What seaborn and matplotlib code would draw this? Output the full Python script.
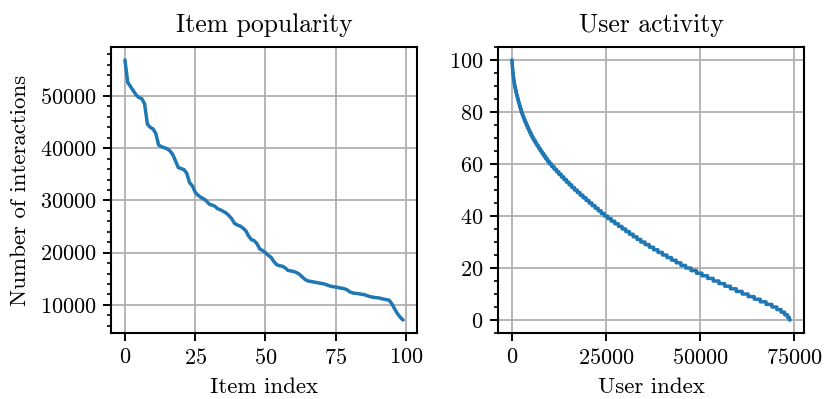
import numpy as np
import pandas as pd
import matplotlib
matplotlib.use("Agg")
import matplotlib.pyplot as plt
from matplotlib.ticker import MultipleLocator
import seaborn as sns

# Interactions per item, items sorted by popularity (top 100 items)
item_interactions = [
    56900, 52600, 51800, 51000, 50200, 49700, 49500, 48500, 44600, 44000,
    43700, 42800, 40600, 40300, 40100, 39900, 39500, 38800, 37600, 36300,
    36100, 35900, 35200, 33400, 32800, 31600, 31000, 30600, 30300, 29900,
    29300, 29100, 28900, 28400, 28200, 27900, 27600, 27100, 26500, 25600,
    25300, 25100, 24700, 24200, 23200, 22500, 22300, 21700, 20700, 20400,
    20000, 19500, 19100, 18300, 17700, 17500, 17400, 17100, 16600, 16500,
    16400, 16200, 15900, 15400, 14900, 14600, 14500, 14400, 14300, 14200,
    14100, 14000, 13800, 13600, 13500, 13400, 13300, 13200, 13100, 12900,
    12500, 12300, 12200, 12150, 12050, 12000, 11800, 11600, 11500, 11400,
    11350, 11250, 11100, 11000, 10900, 10200, 9200, 8300, 7600, 7100,
]

# Activity levels (interactions per user) and number of users at each level
activity_levels = list(range(100, -1, -1))
users_per_level = [
    30, 40, 45, 55, 60, 70, 80, 90, 105, 125,              # 100..91
    140, 150, 160, 165, 175, 180, 190, 195, 205, 210,      # 90..81
    235, 250, 265, 280, 290, 300, 310, 320, 330, 350,      # 80..71
    395, 410, 425, 440, 450, 460, 470, 485, 505, 520,      # 70..61
    600, 620, 635, 650, 660, 665, 675, 690, 700, 715,      # 60..51
    760, 770, 780, 790, 795, 800, 805, 805, 810, 815,      # 50..41
    920, 935, 950, 960, 970, 975, 985, 990, 1000, 1015,    # 40..31
    1110, 1130, 1150, 1170, 1185, 1200, 1215, 1230, 1245, 1265,  # 30..21
    1420, 1450, 1470, 1490, 1500, 1510, 1520, 1530, 1545, 1565,  # 20..11
    1600, 1620, 1580, 1560, 1540,                          # 10..6
    1300, 1150, 950, 750, 500, 200,                        # 5..0
]

item_df = pd.DataFrame({"Item index": np.arange(len(item_interactions)),
                        "Number of interactions": item_interactions})
user_activity = np.repeat(activity_levels, users_per_level)
user_df = pd.DataFrame({"User index": np.arange(len(user_activity)),
                        "Activity": user_activity})

sns.set_style("ticks")
plt.rcParams.update({
    "font.family": "serif",
    "font.serif": ["cmr10", "DejaVu Serif"],
    "mathtext.fontset": "cm",
    "axes.formatter.use_mathtext": True,
    "axes.unicode_minus": False,
    "font.size": 16,
    "text.color": "black",
    "axes.labelcolor": "black",
    "axes.edgecolor": "black",
    "axes.linewidth": 1.5,
    "xtick.color": "black",
    "ytick.color": "black",
    "xtick.direction": "out",
    "ytick.direction": "out",
    "xtick.major.size": 5.5,
    "ytick.major.size": 5.5,
    "ytick.minor.size": 3.2,
    "xtick.major.width": 1.4,
    "ytick.major.width": 1.4,
    "ytick.minor.width": 1.2,
})

fig = plt.figure(figsize=(8.26, 3.99), dpi=100)
ax1 = fig.add_axes([0.1344, 0.1654, 0.3705, 0.7168])
ax2 = fig.add_axes([0.6029, 0.1654, 0.3705, 0.7168])

blue = "#1f77b4"
sns.lineplot(data=item_df, x="Item index", y="Number of interactions",
             ax=ax1, color=blue, linewidth=2.5, estimator=None)
sns.lineplot(data=user_df, x="User index", y="Activity",
             ax=ax2, color=blue, linewidth=2.5, estimator=None)

ax1.set_title("Item popularity", fontsize=18.5, pad=11)
ax2.set_title("User activity", fontsize=18.5, pad=11)
ax1.set_xlabel("Item index", fontsize=16.5, labelpad=7)
ax1.set_ylabel("Number of interactions", fontsize=16.5, labelpad=7)
ax2.set_xlabel("User index", fontsize=16.5, labelpad=7)
ax2.set_ylabel("")

ax1.xaxis.set_major_locator(MultipleLocator(25))
ax1.yaxis.set_major_locator(MultipleLocator(10000))
ax1.yaxis.set_minor_locator(MultipleLocator(2000))
ax2.xaxis.set_major_locator(MultipleLocator(25000))
ax2.yaxis.set_major_locator(MultipleLocator(20))
ax2.yaxis.set_minor_locator(MultipleLocator(5))

for ax in (ax1, ax2):
    ax.grid(True, which="major", color="#b0b0b0", linewidth=1.3)
    ax.set_axisbelow(True)
    for s in ax.spines.values():
        s.set_visible(True)
    ax.tick_params(axis="both", labelsize=16, pad=5)

fig.savefig("out.png", dpi=100)
